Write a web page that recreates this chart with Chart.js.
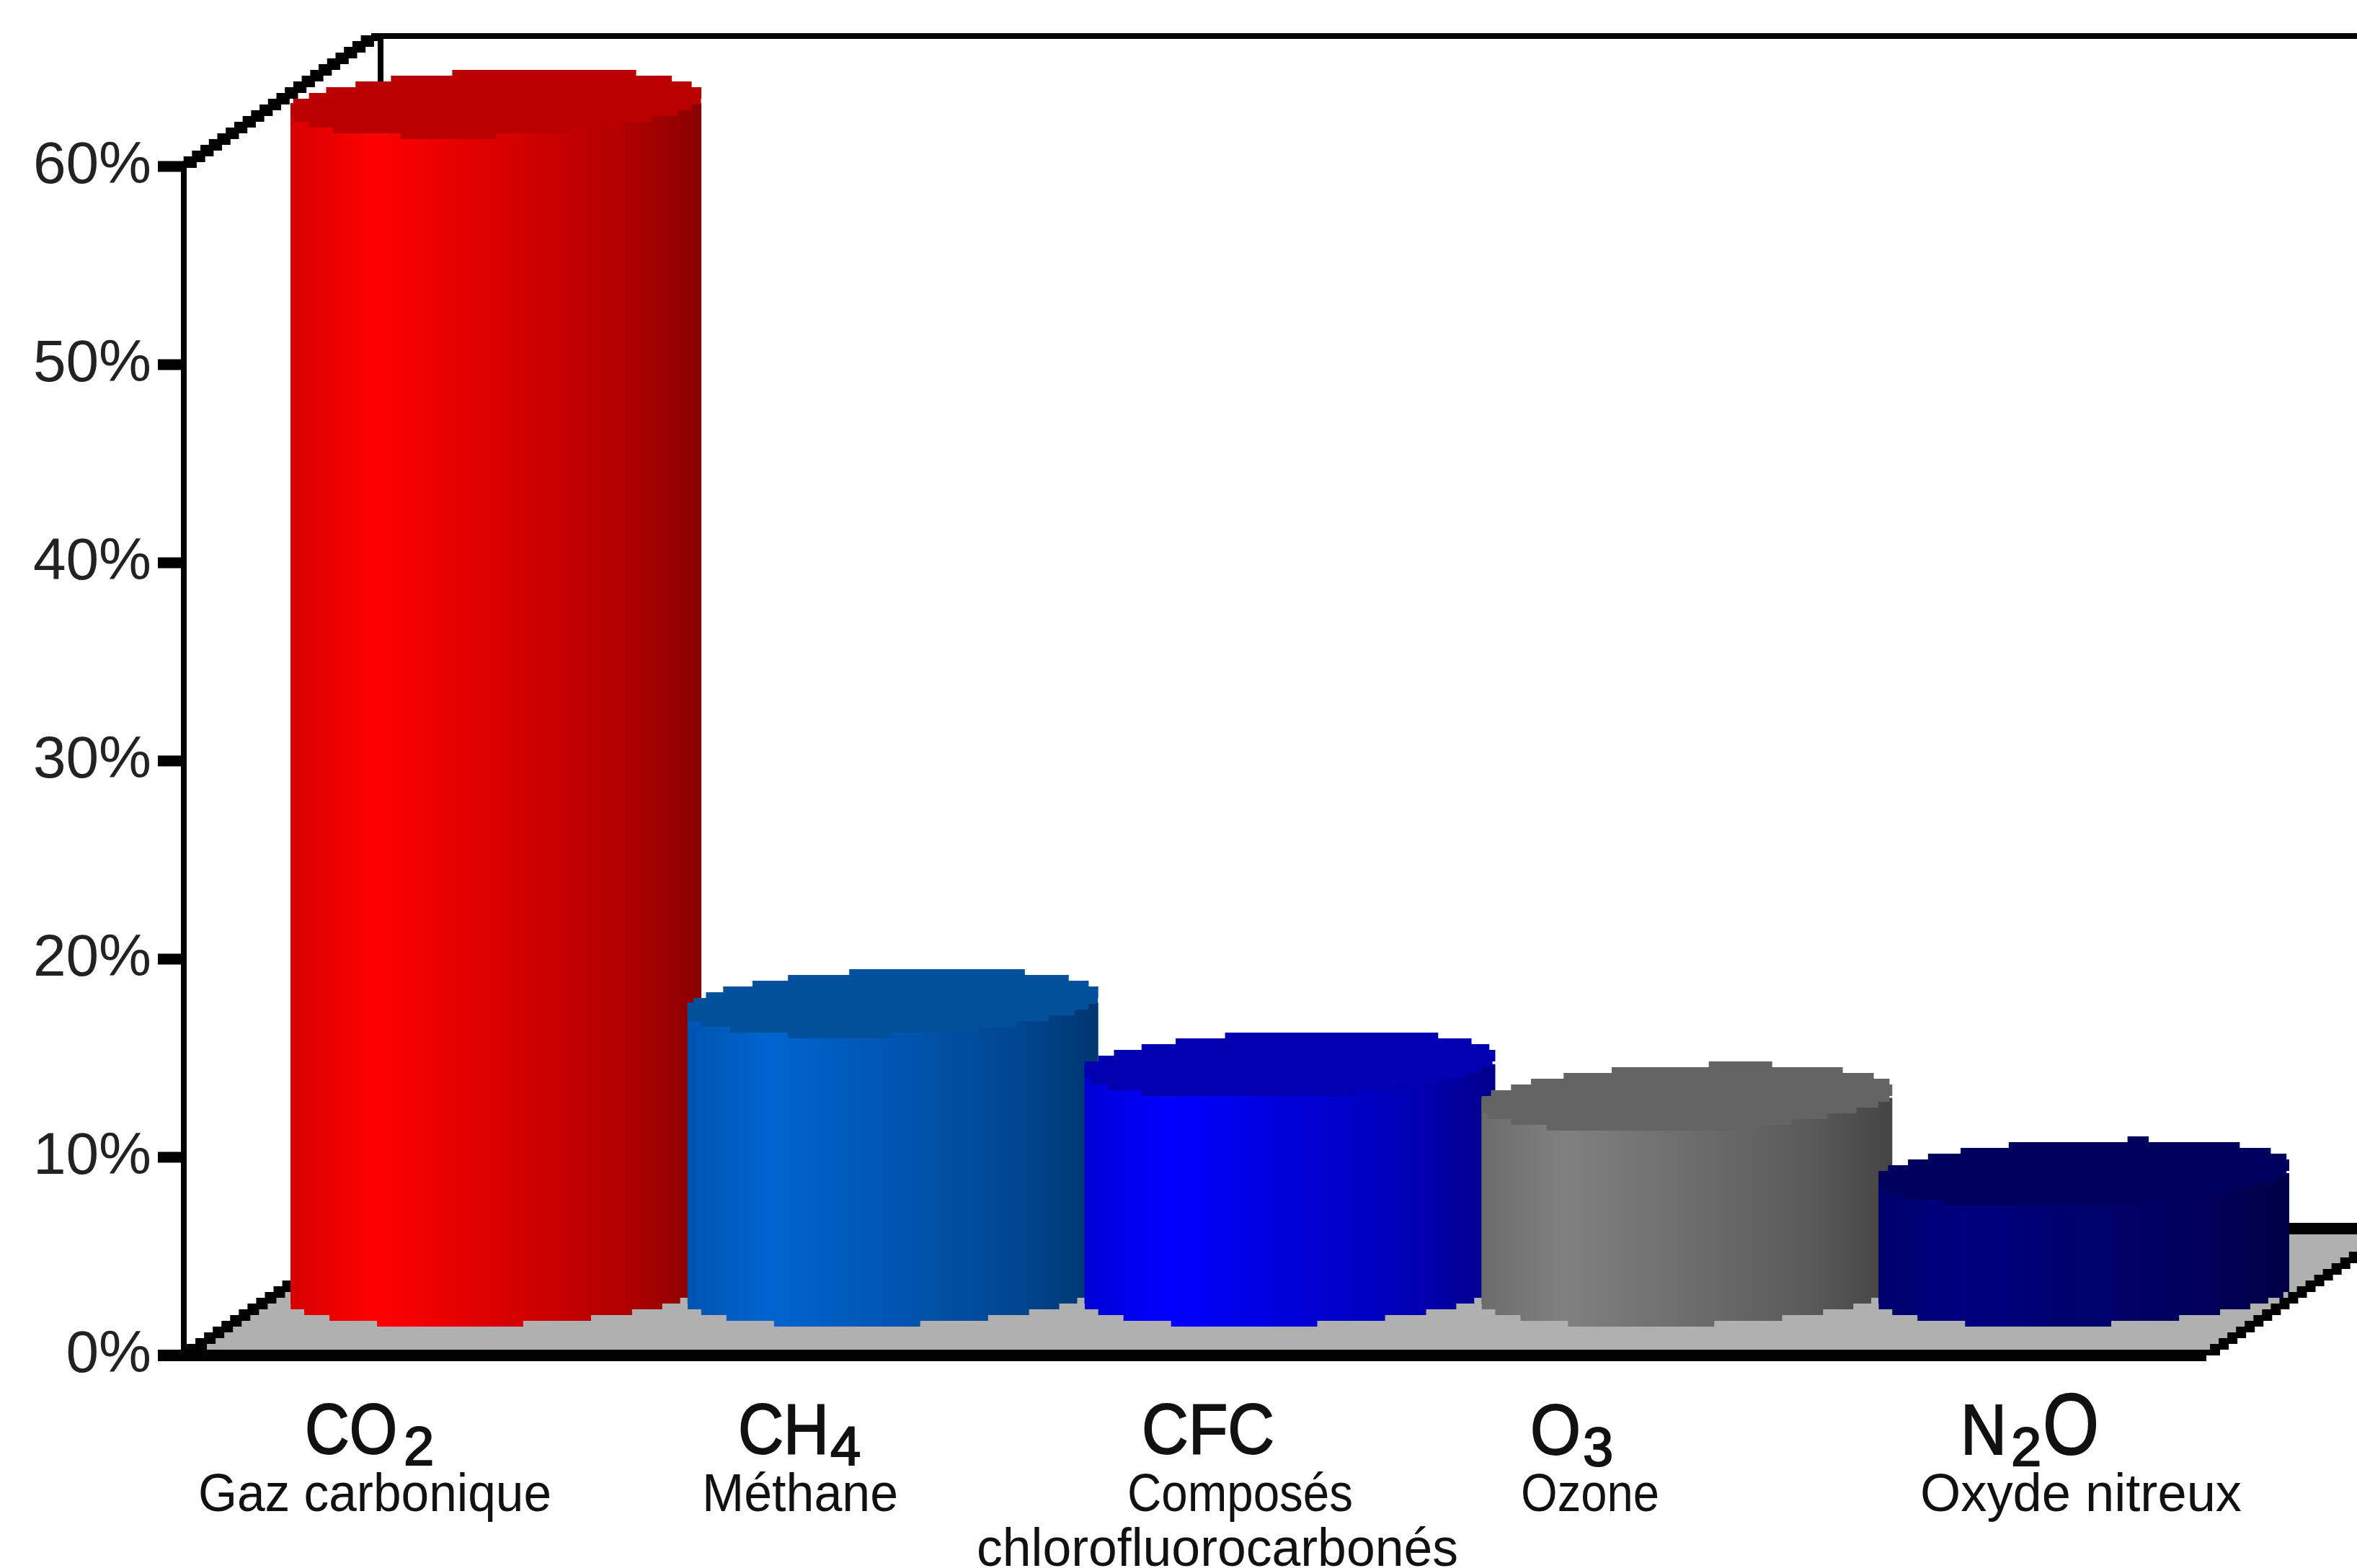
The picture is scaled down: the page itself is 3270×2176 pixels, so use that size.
<!DOCTYPE html>
<html lang="fr">
<head>
  <meta charset="UTF-8" />
  <title>Gaz à effet de serre</title>
  <script src="https://cdn.jsdelivr.net/npm/chart.js"></script>
  <style>
    html, body { margin: 0; padding: 0; background: #fff; }
    canvas { display: block; }
  </style>
</head>
<body>
  <canvas id="chartCanvas" width="3270" height="2176"></canvas>

  <script>
    const categories = ['CO2', 'CH4', 'CFC', 'O3', 'N2O'];
    const values = [60, 14.6, 11.5, 9.8, 6];
    const yTicks = [0, 10, 20, 30, 40, 50, 60];
    const barColors = [[255, 0, 0], [0, 100, 208], [0, 0, 255], [128, 128, 128], [0, 0, 128]];
    const capColors = ['#bb0000', '#00509c', '#0000b0', '#646464', '#00005e'];

    // 3D box of the plot: the scales sit on the front plane
    const depthX = 265, depthY = 176;
    const frontLeft = 255, frontRight = 3061;
    const ellipseB = 46, ellipseSkew = 10, ellipseExtra = 6;
    const ROW = 8; // the source picture is blocky, rows of 8px
    const FONT = '"Liberation Sans", Arial, sans-serif';

    function shade(rgb, f) {
      return `rgb(${rgb.map(c => Math.round(c * f)).join(',')})`;
    }

    function snap(y) {
      return Math.round((y - 1) / ROW) * ROW + 1;
    }

    function ellipsePath(ctx, cx, cy, a, from, to, moveFirst) {
      let prevY = null;
      for (let i = 0; i <= 120; i++) {
        const t = from + (to - from) * i / 120;
        const x = cx + (a + ellipseExtra) * Math.cos(t);
        const y = snap(cy + ellipseB * Math.sin(t) - ellipseSkew * Math.cos(t));
        if (i === 0) {
          if (moveFirst) ctx.moveTo(x, y); else ctx.lineTo(x, y);
        } else {
          ctx.lineTo(x, prevY);
          ctx.lineTo(x, y);
        }
        prevY = y;
      }
    }

    function line(ctx, x1, y1, x2, y2, w) {
      ctx.lineWidth = w;
      ctx.beginPath();
      ctx.moveTo(x1, y1);
      ctx.lineTo(x2, y2);
      ctx.stroke();
    }

    // diagonal edge of the box, drawn in rows like the original
    function stairLine(ctx, x1, y1, x2, y2, w) {
      const from = snap(Math.min(y1, y2));
      const to = snap(Math.max(y1, y2));
      for (let y = from; y < to; y += ROW) {
        const x = x1 + (x2 - x1) * (y + ROW / 2 - y1) / (y2 - y1);
        ctx.fillRect(x - w / 2, y, w, ROW);
      }
    }

    const frame3d = {
      id: 'frame3d',
      beforeDatasetsDraw(chart) {
        const { ctx, scales: { y } } = chart;
        const y0 = y.getPixelForValue(0);
        const yTop = y.getPixelForValue(60);
        ctx.save();
        // floor
        ctx.fillStyle = '#b0b0b0';
        ctx.beginPath();
        ctx.moveTo(frontLeft, y0);
        ctx.lineTo(frontLeft + depthX, y0 - depthY);
        ctx.lineTo(frontRight + depthX, y0 - depthY);
        ctx.lineTo(frontRight, y0);
        ctx.closePath();
        ctx.fill();

        ctx.strokeStyle = '#000';
        ctx.fillStyle = '#000';
        ctx.lineCap = 'butt';
        line(ctx, frontLeft + depthX, y0 - depthY, 3270, y0 - depthY, 16);
        line(ctx, frontLeft + depthX + 8, yTop - depthY - 5, frontLeft + depthX + 8, y0 - depthY, 8);
        line(ctx, frontLeft + depthX - 5, yTop - depthY - 5, 3270, yTop - depthY - 5, 8);
        stairLine(ctx, frontLeft, yTop, frontLeft + depthX, yTop - depthY - 5, 30);
        stairLine(ctx, frontLeft, y0, frontLeft + depthX, y0 - depthY, 28);
        stairLine(ctx, frontRight, y0, frontRight + depthX, y0 - depthY, 26);
        line(ctx, frontLeft, yTop - 4, frontLeft, y0, 8);
        line(ctx, 219, y0, frontRight, y0, 16);
        yTicks.slice(1).forEach(t => {
          const py = y.getPixelForValue(t);
          line(ctx, 219, py, frontLeft, py, 15);
        });
        ctx.restore();
      },
      afterDatasetsDraw(chart) {
        const { ctx } = chart;
        const bars = chart.getDatasetMeta(0).data;
        bars.forEach((bar, i) => {
          // the cylinders stand half way into the box
          const cx = bar.x + depthX / 2;
          const top = bar.y - depthY / 2;
          const base = bar.base - depthY / 2;
          const a = bar.width / 2;
          ctx.save();
          ctx.beginPath();
          ctx.rect(cx - a, 0, a * 2, chart.height);
          ctx.clip();
          const g = ctx.createLinearGradient(cx - a, 0, cx + a, 0);
          const rgb = barColors[i];
          g.addColorStop(0, shade(rgb, 0.84));
          g.addColorStop(0.2, shade(rgb, 1));
          g.addColorStop(0.55, shade(rgb, 0.83));
          g.addColorStop(0.8, shade(rgb, 0.7));
          g.addColorStop(1, shade(rgb, 0.54));
          ctx.fillStyle = g;
          ctx.beginPath();
          ctx.moveTo(cx - a - ellipseExtra, top);
          ctx.lineTo(cx + a + ellipseExtra, top);
          ellipsePath(ctx, cx, base, a, 0, Math.PI, false);
          ctx.closePath();
          ctx.fill();
          ctx.fillStyle = capColors[i];
          ctx.beginPath();
          ellipsePath(ctx, cx, top, a, 0, Math.PI * 2, true);
          ctx.closePath();
          ctx.fill();
          ctx.restore();
        });
      },
      afterDraw(chart) {
        const { ctx } = chart;
        ctx.save();
        ctx.fillStyle = '#111';
        ctx.strokeStyle = '#111';
        ctx.lineWidth = 2;
        ctx.textAlign = 'left';
        ctx.textBaseline = 'alphabetic';
        // formulas, with their subscripts
        const put = (text, x, y, size, w) => {
          ctx.font = `${size}px ${FONT}`;
          ctx.fillText(text, x, y, w);
          ctx.strokeText(text, x, y, w);
        };
        put('CO', 423, 2017, 99, 128);  put('2', 560, 2033, 76);
        put('CH', 1024, 2017, 99, 126); put('4', 1152, 2033, 76);
        put('CFC', 1584, 2017, 99, 184);
        put('O', 2123, 2018, 99, 70);   put('3', 2196, 2034, 76);
        put('N', 2720, 2018, 99, 64);   put('2', 2790, 2034, 76);
        put('O', 2834, 2018, 120, 78);

        const sub = (text, x1, x2, y) => {
          ctx.font = `75px ${FONT}`;
          ctx.fillText(text, x1, y, x2 - x1);
        };
        sub('Gaz carbonique', 275, 765, 2097);
        sub('Méthane', 974, 1246, 2097);
        sub('Composés', 1564, 1877, 2097);
        sub('chlorofluorocarbonés', 1355, 2023, 2173);
        sub('Ozone', 2110, 2302, 2097);
        sub('Oxyde nitreux', 2664, 3110, 2097);
        ctx.restore();
      }
    };

    new Chart(document.getElementById('chartCanvas').getContext('2d'), {
      type: 'bar',
      data: {
        labels: categories,
        datasets: [{
          data: values,
          backgroundColor: 'transparent',
          barThickness: 570
        }]
      },
      options: {
        responsive: false,
        devicePixelRatio: 1,
        animation: false,
        layout: { padding: { top: 231, right: 236, left: 0, bottom: 0 } },
        plugins: { legend: { display: false }, tooltip: { enabled: false } },
        scales: {
          x: {
            grid: { display: false },
            border: { display: false },
            ticks: { display: false },
            afterFit: s => { s.height = 295; }
          },
          y: {
            min: 0,
            max: 60,
            grid: { display: false },
            border: { display: false },
            afterFit: s => { s.width = 280; },
            afterBuildTicks: s => { s.ticks = yTicks.map(v => ({ value: v })); },
            ticks: {
              color: '#222',
              padding: 62,
              font: { family: FONT, size: 82 },
              callback: v => v + '%'
            }
          }
        }
      },
      plugins: [frame3d]
    });
  </script>
</body>
</html>
